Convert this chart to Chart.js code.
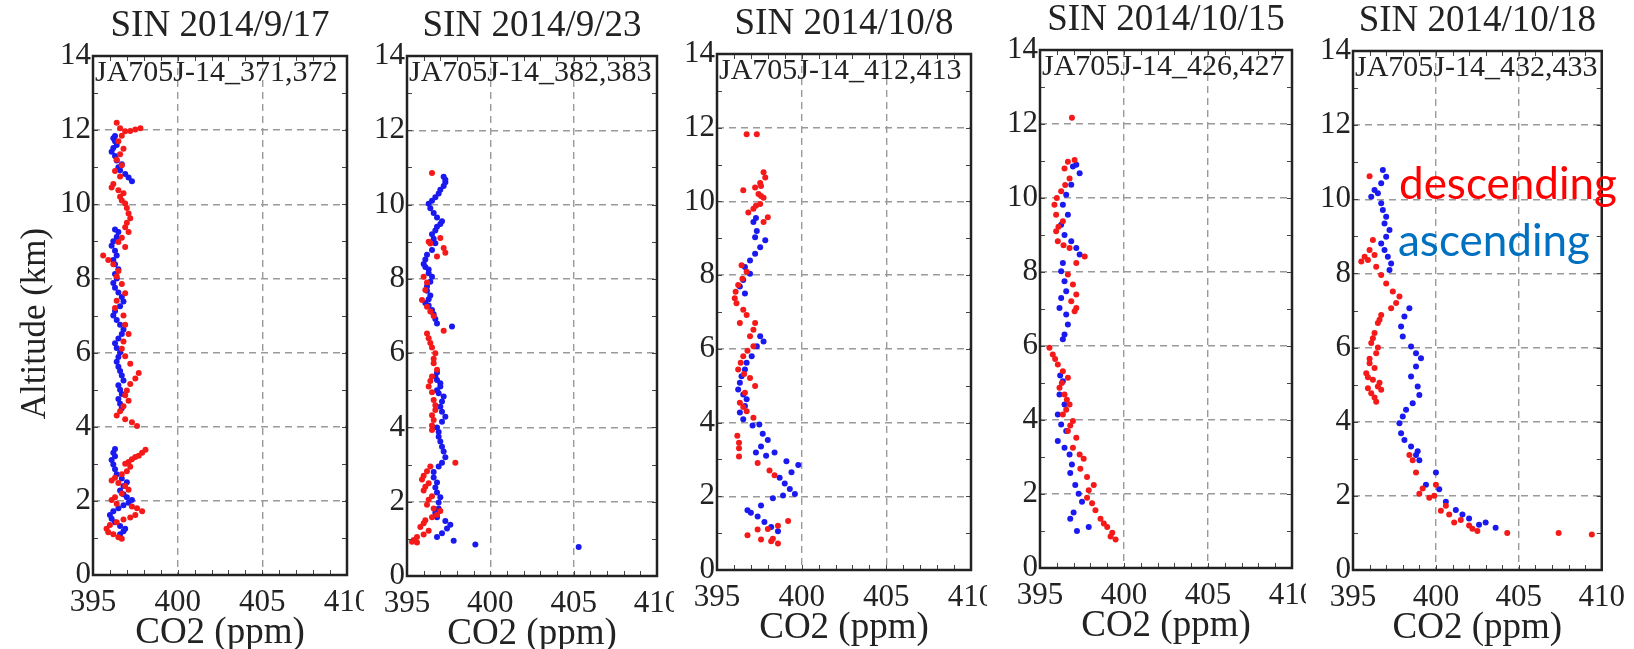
<!DOCTYPE html>
<html>
<head>
<meta charset="utf-8">
<script src="https://cdn.jsdelivr.net/npm/chart.js@4.4.0/dist/chart.umd.min.js"></script>
<style>
  body { margin: 0; background: #fff; width: 1634px; height: 649px; position: relative; overflow: hidden; }
  canvas { position: absolute; top: 0; }
</style>
</head>
<body>
<script>
// ---- data: [CO2 ppm, altitude km] ----
const titles = ['SIN 2014/9/17', 'SIN 2014/9/23', 'SIN 2014/10/8', 'SIN 2014/10/15', 'SIN 2014/10/18'];
const flights = ['JA705J-14_371,372', 'JA705J-14_382,383', 'JA705J-14_412,413', 'JA705J-14_426,427', 'JA705J-14_432,433'];
const xTicks = [395, 400, 405, 410];
const yTicks = [0, 2, 4, 6, 8, 10, 12, 14];

const desc0917 = [[396.4,12.2],[396.6,12.05],[396.9,11.97],[397.2,11.98],[397.5,12.02],[397.8,12.05],[396.7,11.85],[396.5,11.7],[396.8,11.5],[396.6,11.35],[396.4,11.2],[396.7,11.05],[396.3,10.9],[396.6,10.75],[396.2,10.55],[396.1,10.45],[396.5,10.38],[396.8,10.3],[396.6,10.2],[396.7,10.1],[396.9,10.02],[397.0,9.9],[397.1,9.75],[397.2,9.62],[397.0,9.5],[396.9,9.38],[397.1,9.25],[396.7,9.1],[396.5,8.98],[396.9,8.85],[395.6,8.62],[395.9,8.5],[396.2,8.38],[396.5,8.2],[396.4,8.05],[396.7,7.85],[396.9,7.6],[396.4,7.4],[396.3,7.2],[396.8,7.0],[396.9,6.75],[397.1,6.5],[396.8,6.3],[396.7,6.1],[396.9,5.9],[397.2,5.7],[397.7,5.45],[397.5,5.3],[397.2,5.15],[397.0,4.98],[396.9,4.85],[397.1,4.7],[396.8,4.55],[396.6,4.42],[396.4,4.3],[396.9,4.2],[397.3,4.12],[397.6,4.02],
  [398.1,3.38],[397.9,3.3],[397.7,3.22],[397.5,3.18],[397.3,3.12],[397.1,3.05],[396.9,3.0],[397.2,2.92],[397.0,2.8],[396.7,2.72],[396.3,2.62],[396.1,2.55],[396.5,2.48],[396.9,2.4],[397.1,2.3],[396.7,2.2],[396.3,2.1],[396.1,2.02],[396.4,1.92],[397.3,1.85],[397.6,1.8],[397.9,1.72],[397.5,1.62],[397.2,1.55],[396.8,1.5],[396.4,1.42],[396.0,1.35],[395.8,1.25],[395.9,1.15],[396.2,1.1],[396.5,1.02],[396.7,0.98]];
const asc0917 = [[396.6,1.1],[396.8,1.18],[396.9,1.25],[396.6,1.32],[396.3,1.42],[396.1,1.52],[396.0,1.62],[396.2,1.72],[396.5,1.8],[396.8,1.88],[397.1,1.95],[397.3,2.02],[397.0,2.1],[396.8,2.18],[396.6,2.28],[396.8,2.4],[397.0,2.5],[396.7,2.6],[396.4,2.72],[396.3,2.85],[396.2,2.98],[396.1,3.1],[396.3,3.2],[396.2,3.3],[396.3,3.4],
  [396.7,4.5],[396.6,4.62],[396.5,4.75],[396.7,4.88],[396.6,5.0],[396.5,5.12],[396.8,5.25],[396.7,5.38],[396.6,5.5],[396.5,5.62],[396.4,5.75],[396.5,5.88],[396.6,6.0],[396.4,6.12],[396.3,6.25],[396.5,6.38],[396.7,6.5],[396.8,6.62],[396.6,6.75],[396.4,6.88],[396.2,7.0],[396.3,7.12],[396.6,7.25],[396.8,7.38],[396.7,7.5],[396.5,7.62],[396.3,7.75],[396.2,7.88],[396.4,8.0],[396.3,8.12],[396.5,8.25],[396.3,8.38],[396.2,8.5],[396.4,8.62],[396.3,8.75],[396.1,8.88],[396.2,9.0],[396.4,9.12],[396.5,9.25],[396.3,9.32],
  [397.3,10.62],[397.1,10.72],[396.9,10.82],[396.6,10.92],[396.5,11.0],[396.7,11.08],[396.4,11.18],[396.3,11.3],[396.1,11.42],[396.2,11.52],[396.4,11.6],[396.3,11.7],[396.2,11.78],[396.3,11.84]];

const desc0923 = [[396.5,10.85],
  [396.3,9.0],[397.0,9.1],[397.2,8.83],[397.3,8.7],[396.8,8.6],[396.4,8.95],[396.0,8.06],[396.2,7.9],[396.1,7.7],[395.9,7.43],[396.2,7.25],[396.4,7.12],[396.6,7.0],[397.2,6.6],[396.2,6.53],[396.3,6.4],[396.4,6.27],[396.5,6.15],[396.7,6.0],[396.6,5.85],[396.6,5.73],[396.8,5.55],[396.5,5.37],[396.4,5.25],[396.3,5.1],[396.5,4.95],[396.6,4.74],[396.7,4.6],[396.7,4.47],[396.5,4.33],[396.6,4.2],[396.5,4.05],[396.5,3.93],
  [397.9,3.05],[396.4,2.95],[396.2,2.82],[396.0,2.7],[395.9,2.6],[396.3,2.5],[396.1,2.4],[396.0,2.3],[396.5,2.15],[396.3,2.05],[396.2,1.92],[396.6,1.82],[397.0,1.75],[396.8,1.65],[396.5,1.58],[396.1,1.5],[396.0,1.42],[395.8,1.32],[396.3,1.22],[396.0,1.12],[395.6,1.05],[395.4,0.97],[395.3,0.92],[395.6,0.9]];
const asc0923 = [[405.3,0.78],[399.1,0.85],[397.8,0.95],[396.8,1.05],[397.1,1.15],[397.4,1.28],[397.6,1.38],[397.3,1.48],[396.8,1.58],[396.7,1.7],[396.9,1.82],[396.9,1.98],[397.0,2.12],[396.8,2.25],[396.7,2.38],[396.8,2.52],[396.6,2.65],[396.6,2.8],[396.9,2.95],[397.1,3.05],[397.3,3.2],
  [397.2,3.35],[397.1,3.48],[397.0,3.62],[396.9,3.75],[396.9,3.88],[396.8,4.0],[397.1,4.15],[397.3,4.29],[397.1,4.42],[397.0,4.56],[397.1,4.7],[397.2,4.83],[396.9,4.92],[396.8,5.0],[397.0,5.1],[397.0,5.19],[396.8,5.28],[396.7,5.37],[396.8,5.48],
  [397.7,6.72],[396.8,6.8],[396.7,6.92],[396.6,7.05],[396.5,7.16],[396.3,7.28],[396.1,7.35],[396.3,7.45],[396.4,7.55],[396.2,7.68],[396.2,7.8],[396.4,7.92],[396.5,8.06],[396.3,8.15],[396.3,8.25],[396.1,8.32],[396.0,8.4],[396.1,8.52],[396.2,8.65],[396.5,8.78],[396.7,8.96],[396.6,9.08],[396.5,9.2],[396.7,9.3],[396.8,9.4],[397.0,9.48],[397.1,9.55],[396.8,9.65],[396.6,9.77],[396.4,9.9],[396.3,10.02],[396.5,10.1],[396.7,10.2],[396.9,10.3],[397.0,10.4],[397.2,10.5],[397.3,10.6],[397.3,10.67],[397.2,10.75]];

const desc1008 = [[396.75,11.82],[397.35,11.82],
  [397.75,10.79],[397.85,10.65],[397.55,10.5],[397.6,10.42],[397.25,10.38],[396.55,10.3],[397.45,10.2],[397.6,10.15],[397.75,10.1],[397.55,9.93],[397.3,9.88],[397.15,9.8],[396.85,9.7],[398.0,9.57],[397.75,9.44],
  [396.45,8.27],[396.75,8.09],[396.5,7.9],[396.25,7.73],[396.1,7.55],[396.05,7.37],[396.15,7.24],[396.55,7.06],[396.75,6.92],[396.35,6.7],[397.25,6.7],[397.15,6.52],[396.95,6.34],[397.15,6.07],[396.8,5.95],[396.55,5.8],[396.4,5.62],[396.25,5.44],[396.6,5.32],[396.95,5.21],[397.25,4.99],[396.65,4.81],[396.35,4.54],[396.55,4.42],[396.75,4.31],[397.15,4.13],
  [396.2,3.64],[396.3,3.45],[396.3,3.3],[396.3,3.08],[397.4,2.9],[398.1,2.7],[398.4,2.57],[399.2,1.33],[398.6,1.2],[398.0,1.11],[397.4,1.1],[396.8,0.94],[397.6,0.83],[398.2,0.78],[398.6,0.72],[398.3,0.85]];
const asc1008 = [[398.6,1.05],[398.2,1.17],[397.8,1.3],[397.4,1.45],[397.0,1.55],[396.8,1.62],[397.6,1.75],[398.3,1.95],[398.9,2.02],[399.6,2.06],[399.3,2.2],[399.0,2.35],[398.7,2.5],[399.4,2.65],[399.8,2.85],[399.1,2.95],[398.4,3.19],[397.9,3.1],[397.3,3.19],[397.6,3.35],[398.0,3.53],[397.7,3.7],[397.1,3.92],[397.5,3.95],
  [396.55,4.09],[396.35,4.27],[396.65,4.45],[396.75,4.63],[396.55,4.76],[396.25,4.9],[396.35,5.08],[396.45,5.26],[396.65,5.44],[396.75,5.62],[397.05,5.8],[397.35,6.07],[397.75,6.2],[397.55,6.34],
  [396.65,7.5],[396.35,7.69],[396.55,7.87],[396.95,8.04],[396.65,8.22],[396.95,8.4],[397.25,8.58],[397.55,8.76],[397.85,8.95],[397.25,9.03],[397.35,9.2],[397.15,9.44],[397.3,9.55]];

const desc1015 = [[396.9,12.17],
  [397.06,11.03],[396.66,10.98],[396.46,10.8],[396.76,10.53],[396.5,10.35],[396.26,10.18],[396.0,10.0],[395.86,9.82],[395.96,9.55],[396.36,9.37],[396.1,9.22],[395.96,9.1],[396.06,8.83],[396.4,8.72],[396.76,8.65],[397.66,8.42],[397.16,8.24],
  [396.66,7.93],[396.96,7.66],[397.16,7.39],[396.86,7.21],[397.16,7.03],[397.06,6.94],
  [395.56,5.95],[395.76,5.77],[395.9,5.65],[396.06,5.5],[396.36,5.32],[396.66,5.14],[396.3,5.0],[396.16,4.87],[396.46,4.69],[396.6,4.55],[396.76,4.42],[396.56,4.28],[396.36,4.15],[396.96,3.97],[396.8,3.85],[396.66,3.7],[397.16,3.52],[396.96,3.25],[397.36,3.07],[397.6,2.95],[397.4,2.68],[397.8,2.46],[398.2,2.24],[397.9,2.1],[397.8,1.9],[398.1,1.75],[398.3,1.56],[398.6,1.33],[398.8,1.2],[399.0,1.11],[399.3,0.95],[399.5,0.77],[399.2,0.85]];
const asc1015 = [[397.2,1.0],[397.9,1.11],[396.8,1.33],[397.0,1.5],[397.5,1.79],[397.3,2.01],[397.1,2.24],[396.8,2.57],[396.9,2.8],[396.76,3.07],[396.46,3.25],[396.06,3.43],[396.56,3.7],[396.26,3.88],[396.06,4.15],[396.46,4.42],[396.16,4.69],[396.36,5.05],[396.2,5.2],
  [396.36,6.18],[396.46,6.31],[396.66,6.58],[396.56,6.85],[396.16,7.03],[396.26,7.3],[396.56,7.48],[396.46,7.75],[396.26,8.02],[396.36,8.24],
  [397.36,8.47],[397.16,8.65],[396.86,8.83],[396.46,9.0],[396.26,9.28],[396.66,9.55],[396.36,9.82],[396.56,10.09],[396.86,10.36],[396.96,10.85],[397.16,10.9],[397.36,10.67]];

const desc1018 = [[396.0,10.62],
  [396.2,8.9],[396.0,8.63],[395.7,8.45],[395.5,8.32],[395.9,8.36],[396.3,8.5],[396.4,8.18],[396.7,7.96],[397.0,7.73],[397.4,7.51],[397.8,7.38],[397.6,7.2],[397.3,7.06],
  [396.7,6.88],[396.6,6.75],[396.5,6.66],[396.3,6.39],[396.2,6.25],[396.1,6.12],[396.5,6.0],[396.4,5.85],[396.0,5.7],[396.0,5.58],[396.3,5.45],[395.8,5.31],[395.9,5.2],[396.2,5.13],[396.6,5.05],[396.5,4.95],[395.9,4.9],[396.7,4.86],[396.1,4.77],[396.3,4.65],[396.4,4.54],
  [398.4,3.1],[398.6,2.96],[398.8,2.63],[400.0,2.3],[399.2,2.2],[399.0,2.06],[399.9,2.0],[399.6,1.95],[400.6,1.73],[400.3,1.6],[400.8,1.5],[401.5,1.35],[401.1,1.28],[402.0,1.2],[402.2,1.11],[402.5,1.05],[404.3,1.0],[407.4,1.0],[409.4,0.96]];
const asc1018 = [[403.6,1.14],[403.0,1.28],[402.6,1.22],[402.0,1.39],[401.6,1.5],[401.2,1.62],[400.6,1.84],[400.2,2.18],[399.4,2.3],[400.0,2.63],[399.0,2.96],[398.8,3.1],[398.9,3.2],[398.5,3.33],[398.1,3.51],[397.9,3.69],[397.8,3.96],[398.0,4.14],[398.2,4.32],[398.6,4.5],[399.0,4.72],[398.9,4.95],[398.5,5.22],[398.8,5.49],[399.1,5.71],[398.8,5.85],[398.5,6.03],[398.0,6.3],[397.9,6.57],[398.1,6.84],[398.4,7.06],
  [397.2,8.09],[397.3,8.27],[397.1,8.45],[396.9,8.63],[396.7,8.81],[397.0,8.99],[397.2,9.17],[396.9,9.35],[397.0,9.53],[396.8,9.71],[396.7,9.89],[396.1,10.07],[396.5,10.16],[396.3,10.25],[396.7,10.43],[397.0,10.61],[396.8,10.79]];

const descSeries = [desc0917, desc0923, desc1008, desc1015, desc1018];
const ascSeries = [asc0917, asc0923, asc1008, asc1015, asc1018];

// ---- layout (plot box of each panel, in page pixels) ----
const boxes = [
  {l: 93, t: 56, r: 347, b: 575},
  {l: 407, t: 56, r: 657, b: 576},
  {l: 717, t: 54, r: 971, b: 570},
  {l: 1040, t: 50, r: 1292, b: 568},
  {l: 1353, t: 51, r: 1605, b: 570}
];
// each pasted panel hides the far right of its left neighbour's tick labels
const maskFrom = [null, 364, 674, 987, 1306];
const W = 1634, H = 649;
const SERIF = '"Liberation Serif", "Times New Roman", serif';
const INK = '#222';

Chart.defaults.font.family = SERIF;

const toPoints = arr => arr.map(p => ({x: p[0], y: p[1]}));

// box, minor ticks and the texts around each panel
const framePlugin = {
  id: 'frame',
  beforeDraw(chart, args, opts) {
    if (opts.mask == null) return;
    const ctx = chart.ctx;
    ctx.save();
    ctx.fillStyle = '#fff';
    ctx.fillRect(opts.mask, 0, chart.width - opts.mask, chart.height);
    ctx.restore();
  },
  afterDraw(chart, args, opts) {
    const {ctx, chartArea: a, scales} = chart;
    const x = scales.x, y = scales.y;
    ctx.save();
    ctx.strokeStyle = '#444';
    ctx.lineWidth = 1;
    ctx.beginPath();
    for (let v = xTicks[0]; v <= xTicks[xTicks.length - 1]; v++) {
      const px = Math.round(x.getPixelForValue(v)) + 0.5;
      ctx.moveTo(px, a.bottom); ctx.lineTo(px, a.bottom - 5);
      ctx.moveTo(px, a.top); ctx.lineTo(px, a.top + 5);
    }
    for (let v = yTicks[0]; v <= yTicks[yTicks.length - 1]; v++) {
      const py = Math.round(y.getPixelForValue(v)) + 0.5;
      ctx.moveTo(a.left, py); ctx.lineTo(a.left + 5, py);
      ctx.moveTo(a.right, py); ctx.lineTo(a.right - 5, py);
    }
    ctx.stroke();

    ctx.strokeStyle = INK;
    ctx.lineWidth = 2.5;
    ctx.strokeRect(a.left, a.top, a.right - a.left, a.bottom - a.top);

    ctx.fillStyle = INK;
    ctx.textBaseline = 'middle';
    ctx.textAlign = 'center';
    ctx.font = '37px ' + SERIF;
    ctx.fillText(opts.title, (a.left + a.right) / 2, a.top - 30);
    ctx.fillText('CO2 (ppm)', (a.left + a.right) / 2, a.bottom + 58);

    ctx.textAlign = 'left';
    ctx.font = '30px ' + SERIF;
    ctx.fillText(opts.flight, a.left + 2, a.top + 17);

    if (opts.yTitle) {
      ctx.save();
      ctx.translate(36, (a.top + a.bottom) / 2 + 8);
      ctx.rotate(-Math.PI / 2);
      ctx.textAlign = 'center';
      ctx.font = '35px ' + SERIF;
      ctx.fillText(opts.yTitle, 0, 0);
      ctx.restore();
    }

    if (opts.legend) {
      ctx.textBaseline = 'alphabetic';
      ctx.textAlign = 'left';
      ctx.font = '44px Lato, "Open Sans", sans-serif';
      ctx.fillStyle = '#ff0000';
      ctx.fillText('descending', a.left + 46, 199);
      ctx.fillStyle = '#0070c0';
      ctx.fillText('ascending', a.left + 45, 256);
    }
    ctx.restore();
  }
};

boxes.forEach((box, i) => {
  const left = i === 0 ? 0 : box.l - 80;
  const right = i === boxes.length - 1 ? W : box.r + 40;
  const xh = 40;

  const canvas = document.createElement('canvas');
  canvas.width = right - left;
  canvas.height = H;
  canvas.style.left = left + 'px';
  document.body.appendChild(canvas);

  new Chart(canvas, {
    type: 'scatter',
    data: {
      datasets: [
        {
          label: 'descending',
          data: toPoints(descSeries[i]),
          backgroundColor: 'rgb(245,25,25)',
          pointRadius: 3,
          pointBorderWidth: 0
        },
        {
          label: 'ascending',
          data: toPoints(ascSeries[i]),
          backgroundColor: 'rgb(25,25,240)',
          pointRadius: 3,
          pointBorderWidth: 0
        }
      ]
    },
    options: {
      responsive: false,
      animation: false,
      events: [],
      layout: {padding: {left: 0, top: box.t, right: right - box.r, bottom: H - box.b - xh}},
      plugins: {
        legend: {display: false},
        tooltip: {enabled: false},
        frame: {
          title: titles[i],
          flight: flights[i],
          yTitle: i === 0 ? 'Altitude (km)' : null,
          legend: i === boxes.length - 1,
          mask: maskFrom[i] == null ? null : maskFrom[i] - left
        }
      },
      scales: {
        x: {
          type: 'linear',
          min: xTicks[0],
          max: xTicks[xTicks.length - 1],
          afterFit: s => { s.height = xh; },
          afterBuildTicks: s => { s.ticks = xTicks.map(v => ({value: v})); },
          grid: {color: '#9a9a9a', lineWidth: 1.4, drawTicks: false},
          border: {display: false, dash: [7, 5]},
          ticks: {autoSkip: false, maxRotation: 0, padding: 9, color: INK, font: {family: SERIF, size: 31}}
        },
        y: {
          type: 'linear',
          min: yTicks[0],
          max: yTicks[yTicks.length - 1],
          afterFit: s => { s.width = box.l - left; },
          afterBuildTicks: s => { s.ticks = yTicks.map(v => ({value: v})); },
          grid: {color: '#9a9a9a', lineWidth: 1.4, drawTicks: false},
          border: {display: false, dash: [7, 5]},
          ticks: {autoSkip: false, padding: 2, color: INK, font: {family: SERIF, size: 31}}
        }
      }
    },
    plugins: [framePlugin]
  });
});
</script>
</body>
</html>
